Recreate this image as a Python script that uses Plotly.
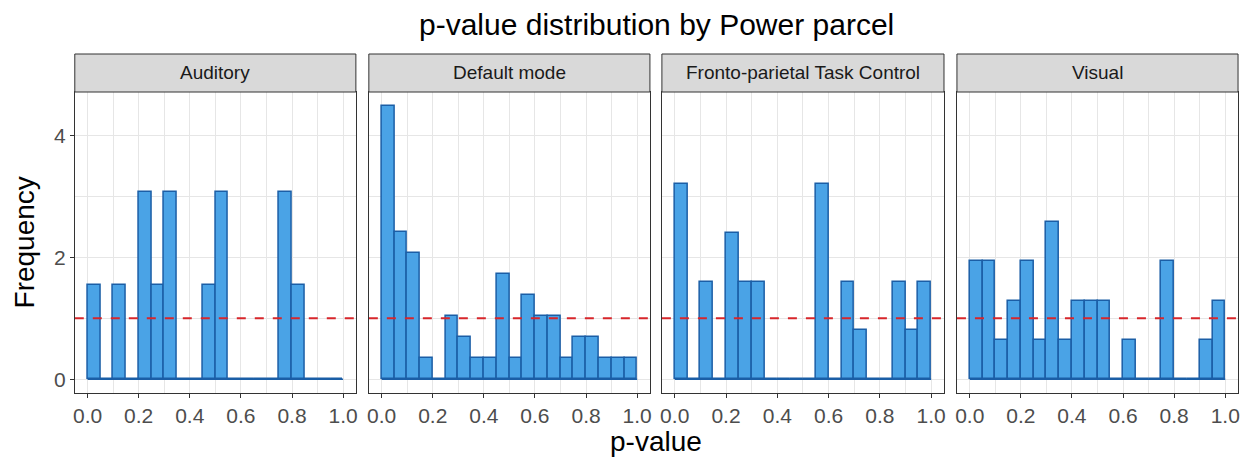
import plotly.graph_objects as go

panels = ["Auditory", "Default mode", "Fronto-parietal Task Control", "Visual"]
bin_edges = [0.00, 0.05, 0.10, 0.15, 0.20, 0.25, 0.30, 0.35, 0.40, 0.45, 0.50,
             0.55, 0.60, 0.65, 0.70, 0.75, 0.80, 0.85, 0.90, 0.95, 1.00]
counts_auditory = [1, 0, 1, 0, 2, 1, 2, 0, 0, 1, 2, 0, 0, 0, 0, 2, 1, 0, 0, 0]
counts_default = [13, 7, 6, 1, 0, 3, 2, 1, 1, 5, 1, 4, 3, 3, 1, 2, 2, 1, 1, 1]
counts_fronto = [4, 0, 2, 0, 3, 2, 2, 0, 0, 0, 0, 4, 0, 2, 1, 0, 0, 2, 1, 2]
counts_visual = [3, 3, 1, 2, 3, 1, 4, 1, 2, 2, 2, 0, 1, 0, 0, 3, 0, 0, 1, 2]
all_counts = [counts_auditory, counts_default, counts_fronto, counts_visual]
uniform_level = 1.0
x_ticks = [0.0, 0.2, 0.4, 0.6, 0.8, 1.0]
y_ticks = [0, 2, 4]

# page body has an 8px default margin: lay out in reference pixels minus that offset
OFF = 8
W, H = 1251 - OFF, 457 - OFF
panel_px = [(73, 355), (368, 650), (662, 945), (958, 1240)]
plot_top, plot_bottom, strip_top = 92, 393, 54


def px_x(p):
    return (p - OFF) / W


def px_y(p):
    return 1 - (p - OFF) / H


FONT = "Liberation Sans, Arial, Helvetica, sans-serif"
FILL = "#4aa3e6"
EDGE = "#1b5ea6"
GRID = "#e6e6e6"

fig = go.Figure()
widths = [b - a for a, b in zip(bin_edges[:-1], bin_edges[1:])]
centers = [(a + b) / 2 for a, b in zip(bin_edges[:-1], bin_edges[1:])]

ymax = 0
dens_all = []
for counts in all_counts:
    n = sum(counts)
    dens = [c / (n * w) for c, w in zip(counts, widths)]
    dens_all.append(dens)
    ymax = max(ymax, max(dens))
pad = 0.05 * ymax
yrange = [-pad, ymax + pad]

shapes = []
annotations = []
for i, (name, dens) in enumerate(zip(panels, dens_all)):
    k = "" if i == 0 else str(i + 1)
    xa, ya = "x" + k, "y" + k
    xlen = bin_edges[-1] - bin_edges[0]
    xr = [bin_edges[0] - 0.05 * xlen, bin_edges[-1] + 0.05 * xlen]
    # baseline (zero-height bins)
    fig.add_trace(go.Scatter(x=[bin_edges[0], bin_edges[-1]], y=[0, 0], mode="lines",
                             line=dict(color=EDGE, width=1.5), xaxis=xa, yaxis=ya,
                             showlegend=False, hoverinfo="skip"))
    fig.add_trace(go.Bar(x=centers, y=dens, width=widths,
                         marker=dict(color=FILL, line=dict(color=EDGE, width=1.5)),
                         xaxis=xa, yaxis=ya, showlegend=False))
    fig.add_trace(go.Scatter(x=xr, y=[uniform_level, uniform_level], mode="lines",
                             line=dict(color="#d7262b", width=2, dash="dash"),
                             xaxis=xa, yaxis=ya, showlegend=False, hoverinfo="skip"))
    x0, x1 = panel_px[i]
    dom = [px_x(x0), px_x(x1)]
    fig.layout["xaxis" + k] = dict(
        domain=dom, range=xr,
        tickvals=x_ticks, ticktext=[f"{v:.1f}" for v in x_ticks],
        ticks="outside", ticklen=4, tickcolor="#333333", tickwidth=1,
        tickfont=dict(family=FONT, size=21, color="#4d4d4d"),
        showgrid=True, gridcolor=GRID, gridwidth=1.3,
        minor=dict(tickvals=[0.1, 0.3, 0.5, 0.7, 0.9], showgrid=True,
                   gridcolor=GRID, gridwidth=0.7, ticks=""),
        zeroline=False, showline=True, linecolor="#333333", linewidth=1, mirror=True,
        anchor=ya, fixedrange=True)
    fig.layout["yaxis" + k] = dict(
        domain=[px_y(plot_bottom), px_y(plot_top)], range=yrange,
        tickvals=y_ticks, ticktext=[str(v) for v in y_ticks] if i == 0 else None,
        showticklabels=(i == 0),
        ticks="outside" if i == 0 else "", ticklen=4, tickcolor="#333333",
        tickfont=dict(family=FONT, size=21, color="#4d4d4d"),
        showgrid=True, gridcolor=GRID, gridwidth=1.3,
        minor=dict(tickvals=[1, 3], showgrid=True, gridcolor=GRID, gridwidth=0.7, ticks=""),
        zeroline=False, showline=True, linecolor="#333333", linewidth=1, mirror=True,
        anchor=xa, fixedrange=True)
    # strip
    shapes.append(dict(type="rect", xref="paper", yref="paper",
                       x0=dom[0], x1=dom[1], y0=px_y(plot_top), y1=px_y(strip_top),
                       fillcolor="#d9d9d9", line=dict(color="#333333", width=1), layer="above"))
    annotations.append(dict(text=name, xref="paper", yref="paper",
                            x=(dom[0] + dom[1]) / 2, y=px_y((plot_top + strip_top) / 2),
                            xanchor="center", yanchor="middle", showarrow=False,
                            font=dict(family=FONT, size=19, color="#1a1a1a")))

mid_x = px_x((panel_px[0][0] + panel_px[-1][1]) / 2)
annotations.append(dict(text="p-value distribution by Power parcel", xref="paper", yref="paper",
                        x=mid_x, y=px_y(25),
                        xanchor="center", yanchor="middle", showarrow=False,
                        font=dict(family=FONT, size=30, color="#000000")))
annotations.append(dict(text="p-value", xref="paper", yref="paper",
                        x=mid_x, y=px_y(441),
                        xanchor="center", yanchor="middle", showarrow=False,
                        font=dict(family=FONT, size=28, color="#000000")))
annotations.append(dict(text="Frequency", xref="paper", yref="paper",
                        x=px_x(23), y=px_y((plot_top + plot_bottom) / 2), textangle=-90,
                        xanchor="center", yanchor="middle", showarrow=False,
                        font=dict(family=FONT, size=28, color="#000000")))

fig.update_layout(width=W, height=H, margin=dict(l=0, r=0, t=0, b=0),
                  paper_bgcolor="white", plot_bgcolor="white",
                  shapes=shapes, annotations=annotations, bargap=0)
fig.write_html("out.html", config={"displayModeBar": False})
